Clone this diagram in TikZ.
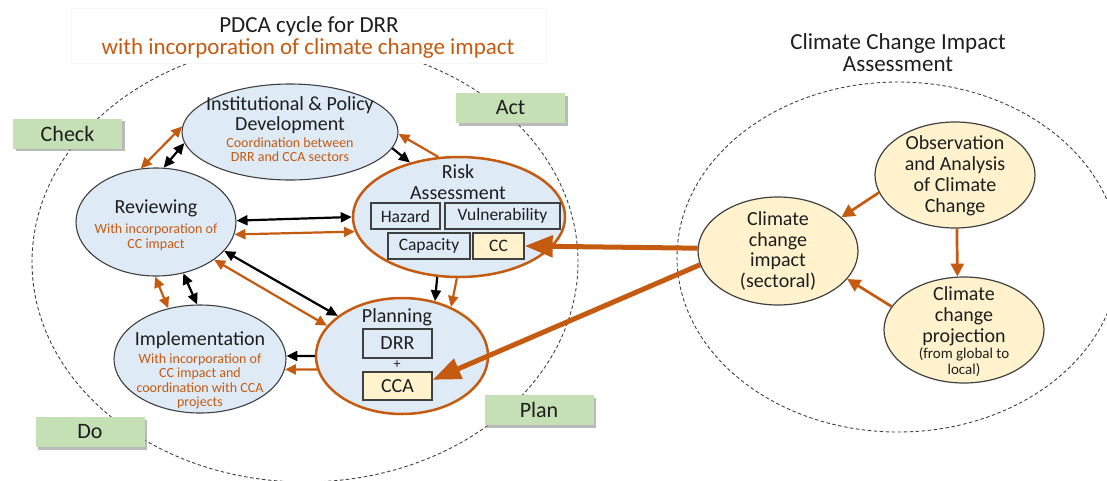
\documentclass[tikz,border=0pt]{standalone}
\usepackage{fontspec}
\setmainfont{Carlito}
\usetikzlibrary{arrows.meta,shapes.geometric,shadows}
\definecolor{orng}{RGB}{197,90,17}
\definecolor{lblue}{RGB}{222,235,247}
\definecolor{lyel}{RGB}{255,242,204}
\definecolor{lgrn}{RGB}{197,224,180}
\definecolor{dgray}{RGB}{64,64,64}
\definecolor{txt}{RGB}{30,30,30}
\begin{document}
\begin{tikzpicture}[x=1pt,y=-1pt,
  every node/.style={text=txt},
  dashell/.style={ellipse, draw=dgray, line width=0.9pt, dash pattern=on 3.5pt off 2.5pt, inner sep=0pt},
  bell/.style={ellipse, draw=dgray, line width=1.1pt, fill=lblue, inner sep=0pt},
  oell/.style={ellipse, draw=orng, line width=2.5pt, fill=lblue, inner sep=0pt},
  yell/.style={ellipse, draw=dgray, line width=1.2pt, fill=lyel, inner sep=0pt},
  phase/.style={rectangle, fill=lgrn, minimum width=109pt, minimum height=30pt, inner sep=0pt,
     font=\fontsize{22}{22}\selectfont,
     drop shadow={shadow xshift=2.5pt, shadow yshift=-2.5pt, fill=black!45, opacity=0.6}},
  ibox/.style={rectangle, draw=dgray, line width=1.3pt, fill=lblue, inner sep=0pt, font=\fontsize{17.5}{17.5}\selectfont},
  pbox/.style={rectangle, draw=dgray, line width=1.3pt, fill=lblue, inner sep=0pt, font=\fontsize{20}{20}\selectfont},
  big/.style={align=center, font=\fontsize{20}{21}\selectfont},
  otxt/.style={align=center, text=orng, font=\fontsize{14}{14.5}\selectfont},
  karr/.style={draw=black, line width=2.2pt, -{Triangle[length=11pt,width=10pt]}},
  kdbl/.style={draw=black, line width=2.2pt, {Triangle[length=11pt,width=10pt]}-{Triangle[length=11pt,width=10pt]}},
  oarr/.style={draw=orng, line width=2.2pt, -{Triangle[length=11pt,width=10pt]}},
  odbl/.style={draw=orng, line width=2.2pt, {Triangle[length=11pt,width=10pt]}-{Triangle[length=11pt,width=10pt]}},
  rarr/.style={draw=orng, line width=2.7pt, -{Triangle[length=13pt,width=13pt]}},
  bigarr/.style={draw=orng, line width=5pt, -{Triangle[length=28pt,width=21pt]}}
]
\useasboundingbox (0,0) rectangle (1107,480);
% dashed groups
\node[dashell, minimum width=546pt, minimum height=440pt] (cyc) at (305,262) {};
\node[dashell, minimum width=442pt, minimum height=350pt] (cia) at (898,257) {};
% titles
\node[fill=white, draw=black!3, minimum width=475pt, minimum height=55pt] (tbox) at (308.5,35.5) {};
\node[font=\fontsize{23}{23}\selectfont] (t1) at (309,26) {PDCA cycle for DRR};
\node[font=\fontsize{23}{23}\selectfont, text=orng] (t2) at (308,48) {with incorporation of climate change impact};
\node[align=center, font=\fontsize{23}{22}\selectfont] (t3) at (898,53) {Climate Change Impact\\Assessment};
% phase boxes
\node[phase] (check) at (67.5,133.5) {Check};
\node[phase] (act) at (510.5,108) {Act};
\node[phase] (do) at (90,432) {Do};
\node[phase] (planb) at (539,410) {Plan};
% main ellipses
\node[bell, minimum width=216pt, minimum height=96pt] (inst) at (290,132) {};
\node[bell, minimum width=160pt, minimum height=108pt] (rev) at (156,222) {};
\node[bell, minimum width=172pt, minimum height=108pt] (impl) at (200,359) {};
\node[oell, minimum width=172pt, minimum height=116pt] (plan) at (402,356) {};
\node[oell, minimum width=212pt, minimum height=120pt] (risk) at (459,217) {};
\node[yell, minimum width=160pt, minimum height=106pt] (obs) at (955,175) {};
\node[yell, minimum width=160pt, minimum height=108pt] (imp) at (778,251) {};
\node[yell, minimum width=160pt, minimum height=106pt] (proj) at (964,330) {};
% texts
\node[big, font=\fontsize{20}{20}\selectfont] (instT) at (290,115) {Institutional \& Policy\\Development};
\node[otxt, font=\fontsize{14}{14}\selectfont] (instO) at (290,150) {Coordination between\\DRR and CCA sectors};
\node[big] (revT) at (156,208) {Reviewing};
\node[otxt, font=\fontsize{14}{15}\selectfont] (revO) at (156,237.5) {With incorporation of\\CC impact};
\node[big] (implT) at (200,340) {Implementation};
\node[otxt] (implO) at (200,381.5) {With incorporation of\\CC impact and\\coordination with CCA\\projects};
\node[big] (riskT) at (458,182.5) {Risk\\Assessment};
\node[big] (planT) at (397,317) {Planning};
\node[font=\fontsize{14}{14}\selectfont] (plus) at (397,365) {+};
\node[big] (obsT) at (955,175.5) {Observation\\and Analysis\\of Climate\\Change};
\node[big, font=\fontsize{20}{20.7}\selectfont] (impT) at (778,251) {Climate\\change\\impact\\(sectoral)};
\node[big] (projT) at (964,316) {Climate\\change\\projection};
\node[align=center, font=\fontsize{15}{16}\selectfont] (projS) at (964,362) {(from global to\\local)};
% inner boxes
\node[ibox, minimum width=69pt, minimum height=26pt] (haz) at (405.5,216) {Hazard};
\node[ibox, minimum width=115pt, minimum height=26pt] (vul) at (502.5,216) {Vulnerability};
\node[ibox, minimum width=82pt, minimum height=26pt] (cap) at (429,246) {Capacity};
\node[ibox, fill=lyel, minimum width=51pt, minimum height=26pt] (cc) at (498.5,246) {CC};
\node[pbox, minimum width=69pt, minimum height=29pt] (drr) at (397.5,343.5) {DRR};
\node[pbox, fill=lyel, minimum width=69pt, minimum height=28pt] (cca) at (397.5,386) {CCA};
% PDCA connectors
\draw[odbl] (rev.106) -- (inst.177);
\draw[kdbl] (rev.82.6) -- (inst.186);
\draw[karr] (inst.-9) -- (risk.132.6);
\draw[oarr] (risk.109.5) -- (inst.-1.6);
\draw[kdbl] (rev.1.4) -- (risk.180);
\draw[odbl] (rev.-9.2) -- (risk.188.3);
\draw[kdbl] (rev.-23.1) -- (plan.148.6);
\draw[odbl] (rev.-33.5) -- (plan.158.3);
\draw[odbl] (rev.-91) -- (impl.122);
\draw[kdbl] (rev.-62) -- (impl.93);
\draw[karr] (risk.-110) -- (plan.59.7);
\draw[oarr] (risk.-92.8) -- (plan.45.6);
\draw[karr] (plan.180) -- (impl.2);
\draw[oarr] (plan.189) -- (impl.-7.2);
% climate connectors
\draw[rarr] (obs.193.5) -- (imp.28);
\draw[rarr] (obs.-88) -- (proj.97.4);
\draw[rarr] (proj.162.5) -- (imp.-22.2);
\draw[bigarr] (imp.178) -- (cc.east);
\draw[bigarr] (imp.190) -- (cca.10);
\end{tikzpicture}
\end{document}
